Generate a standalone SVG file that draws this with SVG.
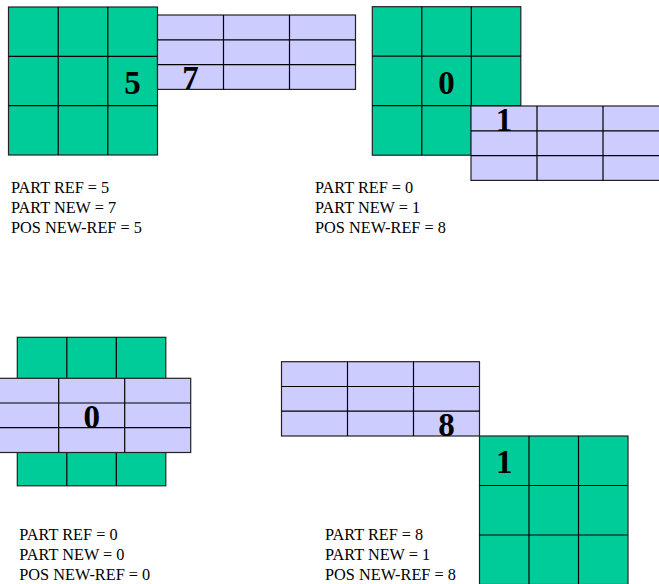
<svg xmlns="http://www.w3.org/2000/svg" width="659" height="584" viewBox="0 0 659 584">
<style>
.g{fill:#00CC99;stroke:#222;stroke-width:1.2}
.p{fill:#CCCCFF;stroke:#222;stroke-width:1.2}
.l{stroke:#000;stroke-width:1.2;fill:none}
.d{font-family:"Liberation Serif","Times New Roman",serif;font-weight:bold;font-size:33px;text-anchor:middle;fill:#000}
.t{font-family:"Liberation Serif","Times New Roman",serif;font-size:16.3px;fill:#000}
</style>
<rect width="659" height="584" fill="#fff"/>
<g id="case1">
<rect class="g" x="8.5" y="7" width="149" height="148"/>
<path class="l" d="M58.2 7V155M107.8 7V155M8.5 56.3H157.5M8.5 105.7H157.5"/>
<rect class="p" x="157.5" y="15" width="198" height="74.4"/>
<path class="l" d="M223.5 15V89.4M289.5 15V89.4M157.5 39.8H355.5M157.5 64.6H355.5"/>
<text class="d" x="132.6" y="94">5</text>
<text class="d" x="190.4" y="89.3">7</text>
<text class="t" x="11" y="193.3">PART REF = 5</text>
<text class="t" x="11" y="213.3">PART NEW = 7</text>
<text class="t" x="11" y="233">POS NEW-REF = 5</text>
</g>
<g id="case2">
<rect class="g" x="372.3" y="6.7" width="148.5" height="148.5"/>
<path class="l" d="M421.8 6.7V155.2M471.3 6.7V155.2M372.3 56.2H520.8M372.3 105.7H520.8"/>
<rect class="p" x="471" y="106" width="198" height="74.4"/>
<path class="l" d="M537 106V180.4M603 106V180.4M471 130.8H669M471 155.6H669"/>
<text class="d" x="446.5" y="94.3">0</text>
<text class="d" x="504" y="130.5">1</text>
<text class="t" x="315" y="193.3">PART REF = 0</text>
<text class="t" x="315" y="213.3">PART NEW = 1</text>
<text class="t" x="315" y="233">POS NEW-REF = 8</text>
</g>
<g id="case3">
<rect class="g" x="17.3" y="337.3" width="148.5" height="148.5"/>
<path class="l" d="M66.8 337.3V485.8M116.3 337.3V485.8"/>
<rect class="p" x="-7.3" y="378.3" width="198" height="74.2"/>
<path class="l" d="M58.7 378.3V452.5M124.7 378.3V452.5M-7.3 403H190.7M-7.3 427.7H190.7"/>
<text class="d" x="91.7" y="427.7">0</text>
<text class="t" x="19.3" y="540">PART REF = 0</text>
<text class="t" x="19.3" y="560">PART NEW = 0</text>
<text class="t" x="19.3" y="579.5">POS NEW-REF = 0</text>
</g>
<g id="case4">
<rect class="p" x="281.5" y="361.7" width="198" height="74.3"/>
<path class="l" d="M347.5 361.7V436M413.5 361.7V436M281.5 386.5H479.5M281.5 411.2H479.5"/>
<rect class="g" x="479.5" y="436" width="148.5" height="148.5"/>
<path class="l" d="M529 436V584.5M578.5 436V584.5M479.5 485.5H628M479.5 535H628"/>
<text class="d" x="446.5" y="435.7">8</text>
<text class="d" x="504.3" y="473.3">1</text>
<text class="t" x="325" y="540">PART REF = 8</text>
<text class="t" x="325" y="560">PART NEW = 1</text>
<text class="t" x="325" y="579.5">POS NEW-REF = 8</text>
</g>
<g id="connectors"/>
</svg>
